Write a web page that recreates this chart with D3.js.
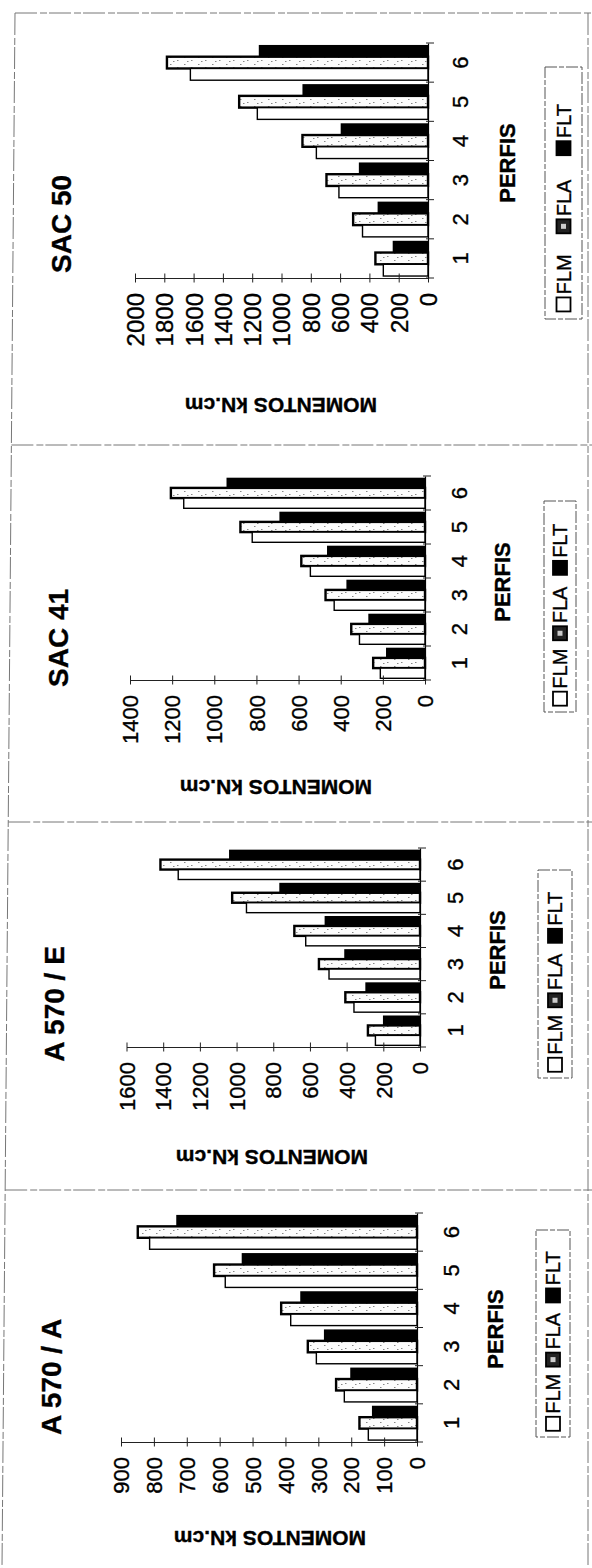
<!DOCTYPE html>
<html>
<head>
<meta charset="utf-8">
<script src="https://cdn.jsdelivr.net/npm/d3@7"></script>
<style>
  body { margin: 0; background: #fff; }
  svg { display: block; }
  text { font-family: "Liberation Sans", Arial, Helvetica, sans-serif; fill: #000; stroke: #000; stroke-width: 0.35px; }
</style>
</head>
<body>
<svg id="fig" width="592" height="1568"></svg>
<script>
// ---- data ----
const categories = ["1", "2", "3", "4", "5", "6"];
const series = ["FLM", "FLA", "FLT"];
const titles = ["SAC 50", "SAC 41", "A 570 / E", "A 570 / A"];
const axisTitle = "MOMENTOS kN.cm";
const catTitle = "PERFIS";

// SAC 50
const sac50FLM = [305, 447, 608, 762, 1165, 1622];
const sac50FLA = [359, 511, 693, 857, 1289, 1782];
const sac50FLT = [241, 344, 472, 596, 857, 1155];
const sac50Ticks = [0, 200, 400, 600, 800, 1000, 1200, 1400, 1600, 1800, 2000];

// SAC 41
const sac41FLM = [212, 311, 431, 544, 820, 1145];
const sac41FLA = [246, 350, 472, 587, 876, 1206];
const sac41FLT = [185, 269, 373, 465, 691, 942];
const sac41Ticks = [0, 200, 400, 600, 800, 1000, 1200, 1400];

// A 570 / E
const a570eFLM = [243, 360, 496, 623, 946, 1318];
const a570eFLA = [284, 407, 551, 685, 1024, 1415];
const a570eFLT = [202, 298, 413, 520, 767, 1041];
const a570eTicks = [0, 200, 400, 600, 800, 1000, 1200, 1400, 1600];

// A 570 / A
const a570aFLM = [148, 221, 306, 384, 583, 813];
const a570aFLA = [175, 246, 332, 413, 617, 849];
const a570aFLT = [137, 203, 283, 355, 533, 732];
const a570aTicks = [0, 100, 200, 300, 400, 500, 600, 700, 800, 900];

// ---- page layout (each chart is printed turned a quarter turn) ----
const panels = [
  { title: titles[0], values: { FLM: sac50FLM, FLA: sac50FLA, FLT: sac50FLT }, ticks: sac50Ticks,
    zeroX: 428, maxX: 135, catTop: 43, axisY: 278, catLabelX: 460, perfis: [507, 163],
    leg: { x0: 545, x1: 582, y0: 67, y1: 319 }, titlePos: [61, 224], momPos: [281, 405], tickFont: 24 },
  { title: titles[1], values: { FLM: sac41FLM, FLA: sac41FLA, FLT: sac41FLT }, ticks: sac41Ticks,
    zeroX: 425, maxX: 130, catTop: 476, axisY: 680, catLabelX: 459, perfis: [502, 582],
    leg: { x0: 544, x1: 576, y0: 501, y1: 712 }, titlePos: [58, 638], momPos: [276, 787], tickFont: 22 },
  { title: titles[2], values: { FLM: a570eFLM, FLA: a570eFLA, FLT: a570eFLT }, ticks: a570eTicks,
    zeroX: 420, maxX: 126.5, catTop: 848, axisY: 1047, catLabelX: 455, perfis: [497, 950],
    leg: { x0: 538, x1: 572, y0: 870, y1: 1078 }, titlePos: [54, 1004], momPos: [272, 1157], tickFont: 22 },
  { title: titles[3], values: { FLM: a570aFLM, FLA: a570aFLA, FLT: a570aFLT }, ticks: a570aTicks,
    zeroX: 417, maxX: 121, catTop: 1213, axisY: 1442, catLabelX: 451, perfis: [495, 1329],
    leg: { x0: 536, x1: 570, y0: 1230, y1: 1437 }, titlePos: [51, 1377], momPos: [270, 1538], tickFont: 22 }
];

const svg = d3.select("#fig");

// sparse speckled fill used for the FLA bars
const defs = svg.append("defs");
const pat = defs.append("pattern").attr("id", "speck")
  .attr("width", 14).attr("height", 7).attr("patternUnits", "userSpaceOnUse");
pat.append("rect").attr("width", 14).attr("height", 7).attr("fill", "#fcfcfc");
[[2, 1], [9, 4], [5, 5]].forEach(([px, py]) =>
  pat.append("rect").attr("x", px).attr("y", py).attr("width", 1.5).attr("height", 1).attr("fill", "#888"));

const fills = { FLM: "#fff", FLA: "url(#speck)", FLT: "#000" };
const strokes = { FLM: 1.4, FLA: 2.4, FLT: 0 };

// page frame lines between the charts
const frame = svg.append("g").attr("stroke", "#777").attr("fill", "none")
  .attr("stroke-width", 1).attr("stroke-dasharray", "22 3 7 2");
const leftAt = yy => 15 - 13 * (yy - 13) / (1568 - 13);
[13, 445, 822, 1190].forEach(yy =>
  frame.append("line").attr("x1", leftAt(yy)).attr("x2", 592).attr("y1", yy).attr("y2", yy));
frame.append("line").attr("x1", 15).attr("y1", 13).attr("x2", 2).attr("y2", 1568);
frame.append("line").attr("x1", 588).attr("y1", 13).attr("x2", 588).attr("y2", 1568);

function rotText(g, x, y, str, size, opts = {}) {
  return g.append("text")
    .attr("transform", `translate(${x},${y}) rotate(${opts.angle ?? -90})`)
    .attr("text-anchor", opts.anchor ?? "middle")
    .attr("dy", "0.35em")
    .attr("font-size", size)
    .attr("font-weight", opts.bold ? "bold" : "normal")
    .text(str);
}

panels.forEach(p => {
  const g = svg.append("g");
  const maxV = p.ticks[p.ticks.length - 1];

  const x = d3.scaleLinear().domain([0, maxV]).range([p.zeroX, p.maxX]);
  const y = d3.scaleBand().domain(categories).range([p.axisY, p.catTop])
    .paddingInner(0.1).paddingOuter(0.05);
  const ys = d3.scaleBand().domain(series).range([y.bandwidth(), 0]);

  // bars
  series.slice().reverse().forEach(s => {
    g.append("g").selectAll("rect")
      .data(categories.map((c, i) => ({ c, v: p.values[s][i] })))
      .join("rect")
      .attr("x", d => x(d.v))
      .attr("y", d => y(d.c) + ys(s))
      .attr("width", d => x(0) - x(d.v))
      .attr("height", ys.bandwidth())
      .attr("fill", fills[s])
      .attr("stroke", strokes[s] ? "#000" : "none")
      .attr("stroke-width", strokes[s]);
  });

  // value axis
  const xAxis = d3.axisBottom(x).tickValues(p.ticks).tickSize(0).tickSizeOuter(0)
    .tickFormat(d3.format("d"));
  const gx = g.append("g").attr("transform", `translate(0,${p.axisY})`).call(xAxis)
    .attr("font-family", null).attr("font-size", null);
  gx.select(".domain").attr("stroke", "#222").attr("stroke-width", 1);
  gx.selectAll(".tick line").attr("y1", -4.5).attr("y2", 4.5).attr("stroke", "#222");
  gx.selectAll(".tick text")
    .attr("x", 0).attr("y", 0).attr("dy", "0.35em")
    .attr("transform", "translate(0,15) rotate(-90)")
    .attr("text-anchor", "end")
    .attr("font-size", p.tickFont)
    .attr("fill", "#000");

  // category axis
  const yAxis = d3.axisRight(y).tickSize(0).tickSizeOuter(0);
  const gy = g.append("g").attr("transform", `translate(${p.zeroX},0)`).call(yAxis)
    .attr("font-family", null).attr("font-size", null);
  gy.select(".domain").attr("stroke", "#000").attr("stroke-width", 1.2);
  gy.selectAll(".tick text")
    .attr("x", 0).attr("y", 0).attr("dy", "0.35em")
    .attr("transform", `translate(${p.catLabelX - p.zeroX},0) rotate(-90)`)
    .attr("text-anchor", "middle")
    .attr("font-size", 22)
    .attr("fill", "#000");
  const bounds = categories.map(c => y(c) - y.step() * y.paddingInner() / 2).concat([p.axisY]);
  gy.append("g").selectAll("line").data(bounds).join("line")
    .attr("x1", -2).attr("x2", 6)
    .attr("y1", d => d).attr("y2", d => d)
    .attr("stroke", "#222").attr("stroke-width", 1);

  // titles
  rotText(g, p.titlePos[0], p.titlePos[1], p.title, 28, { bold: true });
  rotText(g, p.perfis[0], p.perfis[1], catTitle, 22, { bold: true });
  rotText(g, p.momPos[0], p.momPos[1], axisTitle, 21, { bold: true, angle: 180 });

  // legend
  const L = p.leg;
  const len = L.y1 - L.y0;
  g.append("rect").attr("x", L.x0).attr("y", L.y0)
    .attr("width", L.x1 - L.x0).attr("height", len)
    .attr("fill", "none").attr("stroke", "#555").attr("stroke-width", 1)
    .attr("stroke-dasharray", "12 2 5 2");
  const ly = d3.scaleBand().domain(series).range([L.y1 - 0.03 * len, L.y0 + 0.04 * len]);
  const cx = (L.x0 + L.x1) / 2;
  const sq = 14;
  series.forEach(s => {
    const bottom = ly(s) + ly.bandwidth();
    g.append("rect")
      .attr("x", cx - sq / 2).attr("y", bottom - sq)
      .attr("width", sq).attr("height", sq)
      .attr("fill", s === "FLA" ? "#222" : fills[s])
      .attr("stroke", "#000").attr("stroke-width", 1.8);
    if (s === "FLA") {
      g.append("rect").attr("x", cx - 2.5).attr("y", bottom - sq / 2 - 2.5)
        .attr("width", 5).attr("height", 5).attr("fill", "#ccc");
    }
    rotText(g, cx, bottom - sq - 3, s, 20, { anchor: "start" });
  });
});
</script>
</body>
</html>
